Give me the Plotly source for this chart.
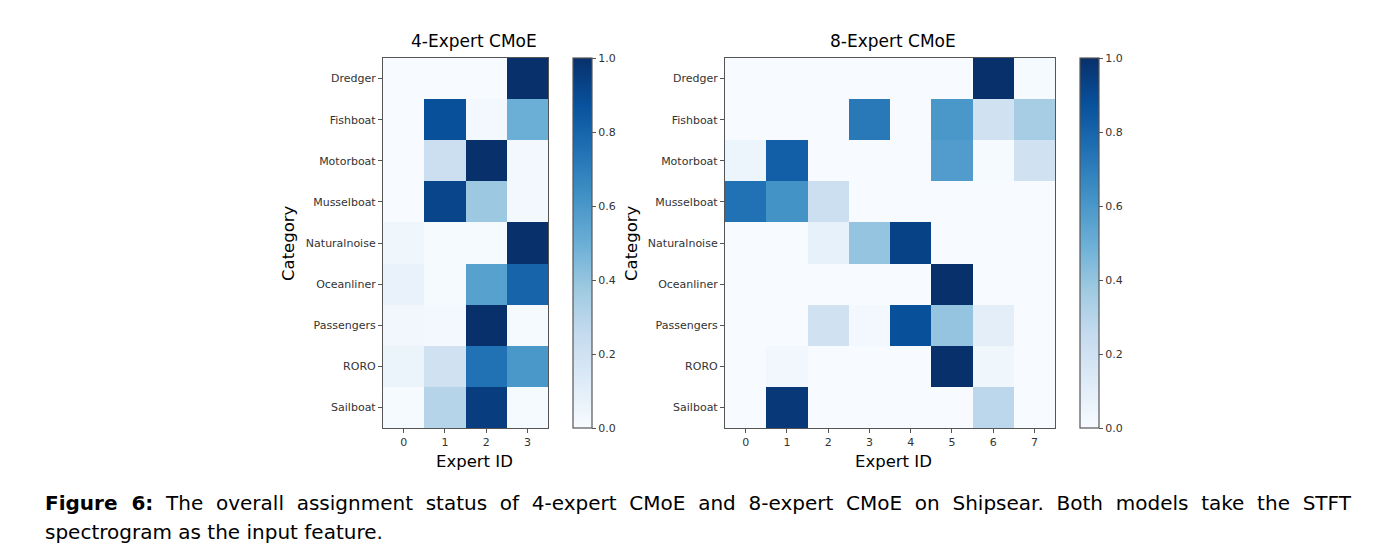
import plotly.graph_objects as go

# categories and expert ids
categories = ['Dredger', 'Fishboat', 'Motorboat', 'Musselboat', 'Naturalnoise',
              'Oceanliner', 'Passengers', 'RORO', 'Sailboat']
experts_4 = [0, 1, 2, 3]
experts_8 = [0, 1, 2, 3, 4, 5, 6, 7]

# assignment ratios (rows = categories, cols = experts)
assign_4 = [
    [0.00, 0.00, 0.00, 1.00],
    [0.00, 0.88, 0.02, 0.50],
    [0.00, 0.22, 1.00, 0.02],
    [0.00, 0.92, 0.38, 0.02],
    [0.04, 0.01, 0.01, 1.00],
    [0.07, 0.01, 0.56, 0.80],
    [0.03, 0.02, 1.00, 0.01],
    [0.06, 0.20, 0.75, 0.60],
    [0.01, 0.30, 0.95, 0.01],
]
assign_8 = [
    [0.00, 0.00, 0.00, 0.00, 0.00, 0.00, 1.00, 0.01],
    [0.00, 0.00, 0.00, 0.72, 0.00, 0.60, 0.20, 0.35],
    [0.05, 0.82, 0.00, 0.00, 0.00, 0.58, 0.01, 0.20],
    [0.75, 0.62, 0.22, 0.00, 0.00, 0.00, 0.00, 0.00],
    [0.00, 0.00, 0.08, 0.40, 0.93, 0.00, 0.00, 0.00],
    [0.00, 0.00, 0.00, 0.00, 0.00, 1.00, 0.00, 0.00],
    [0.00, 0.00, 0.20, 0.02, 0.88, 0.40, 0.10, 0.00],
    [0.00, 0.03, 0.00, 0.00, 0.00, 1.00, 0.04, 0.00],
    [0.00, 0.97, 0.00, 0.00, 0.00, 0.00, 0.28, 0.00],
]
cbar_ticks = [0.0, 0.2, 0.4, 0.6, 0.8, 1.0]

# matplotlib "Blues"
blues = ['#f7fbff', '#deebf7', '#c6dbef', '#9ecae1', '#6baed6',
         '#4292c6', '#2171b5', '#08519c', '#08306b']

# page is 1386x551 but the browser adds an 8px body margin
PAGE_W, PAGE_H, OFF = 1386, 551, 8
W, H = PAGE_W - 2 * OFF, PAGE_H - 2 * OFF
font = 'DejaVu Sans'
tick_font = dict(family=font, size=11, color='#333333')


def px_x(p):
    return (p - OFF) / W


def px_y(p):
    return 1 - (p - OFF) / H


def cbar(xpix):
    return dict(x=px_x(xpix), xanchor='left', xpad=0, ypad=0,
                thickness=19, thicknessmode='pixels',
                len=370, lenmode='pixels', y=px_y(243), yanchor='middle',
                tickvals=cbar_ticks, tickformat='.1f', ticks='outside', ticklen=4,
                tickcolor='#555555', tickfont=tick_font,
                outlinecolor='#555555', outlinewidth=1.2)


fig = go.Figure()
fig.add_trace(go.Heatmap(z=assign_4, x=experts_4, y=categories, colorscale=blues,
                         zmin=0, zmax=1, xaxis='x', yaxis='y', colorbar=cbar(573)))
fig.add_trace(go.Heatmap(z=assign_8, x=experts_8, y=categories, colorscale=blues,
                         zmin=0, zmax=1, xaxis='x2', yaxis='y2', colorbar=cbar(1080)))

axis_style = dict(showline=True, mirror=True, linecolor='#555555', linewidth=1.2,
                  ticks='outside', ticklen=4, tickcolor='#555555', tickfont=tick_font,
                  showgrid=False, zeroline=False)

fig.update_layout(
    width=W, height=H,
    margin=dict(l=0, r=0, t=0, b=0),
    paper_bgcolor='white', plot_bgcolor='white',
    xaxis=dict(domain=[px_x(383), px_x(548)], anchor='y', tickvals=experts_4, **axis_style),
    yaxis=dict(domain=[px_y(428), px_y(58)], anchor='x', autorange='reversed',
               **axis_style),
    xaxis2=dict(domain=[px_x(725), px_x(1055)], anchor='y2', tickvals=experts_8, **axis_style),
    yaxis2=dict(domain=[px_y(428), px_y(58)], anchor='x2', autorange='reversed',
                **axis_style),
)

title_font = dict(family=font, size=17, color='black')
label_font = dict(family=font, size=16.5, color='black')
notes = [
    dict(text='4-Expert CMoE', x=px_x(474), y=px_y(41), font=title_font),
    dict(text='8-Expert CMoE', x=px_x(893), y=px_y(41), font=title_font),
    dict(text='Expert ID', x=px_x(474), y=px_y(461), font=label_font),
    dict(text='Expert ID', x=px_x(893), y=px_y(461), font=label_font),
    dict(text='Category', x=px_x(289), y=px_y(243), font=label_font, textangle=-90),
    dict(text='Category', x=px_x(632), y=px_y(243), font=label_font, textangle=-90),
]
for n in notes:
    fig.add_annotation(xref='paper', yref='paper', showarrow=False,
                       xanchor='center', yanchor='middle', **n)

# caption, first line is justified in the original so spaces are widened
cap_font = dict(family='DejaVu Sans', size=20, color='black')
line1 = ('<b>Figure 6:</b> The overall assignment status of 4-expert CMoE and '
         '8-expert CMoE on Shipsear. Both models take the STFT')
line1 = line1.replace(' ', ' &nbsp;').replace('<b> &nbsp;', '<b> ')
fig.add_annotation(xref='paper', yref='paper', showarrow=False, xanchor='left',
                   yanchor='middle', x=px_x(43), y=px_y(503), font=cap_font,
                   text=line1)
fig.add_annotation(xref='paper', yref='paper', showarrow=False, xanchor='left',
                   yanchor='middle', x=px_x(43), y=px_y(532), font=cap_font,
                   text='spectrogram as the input feature.')

fig.write_html('out.html')
